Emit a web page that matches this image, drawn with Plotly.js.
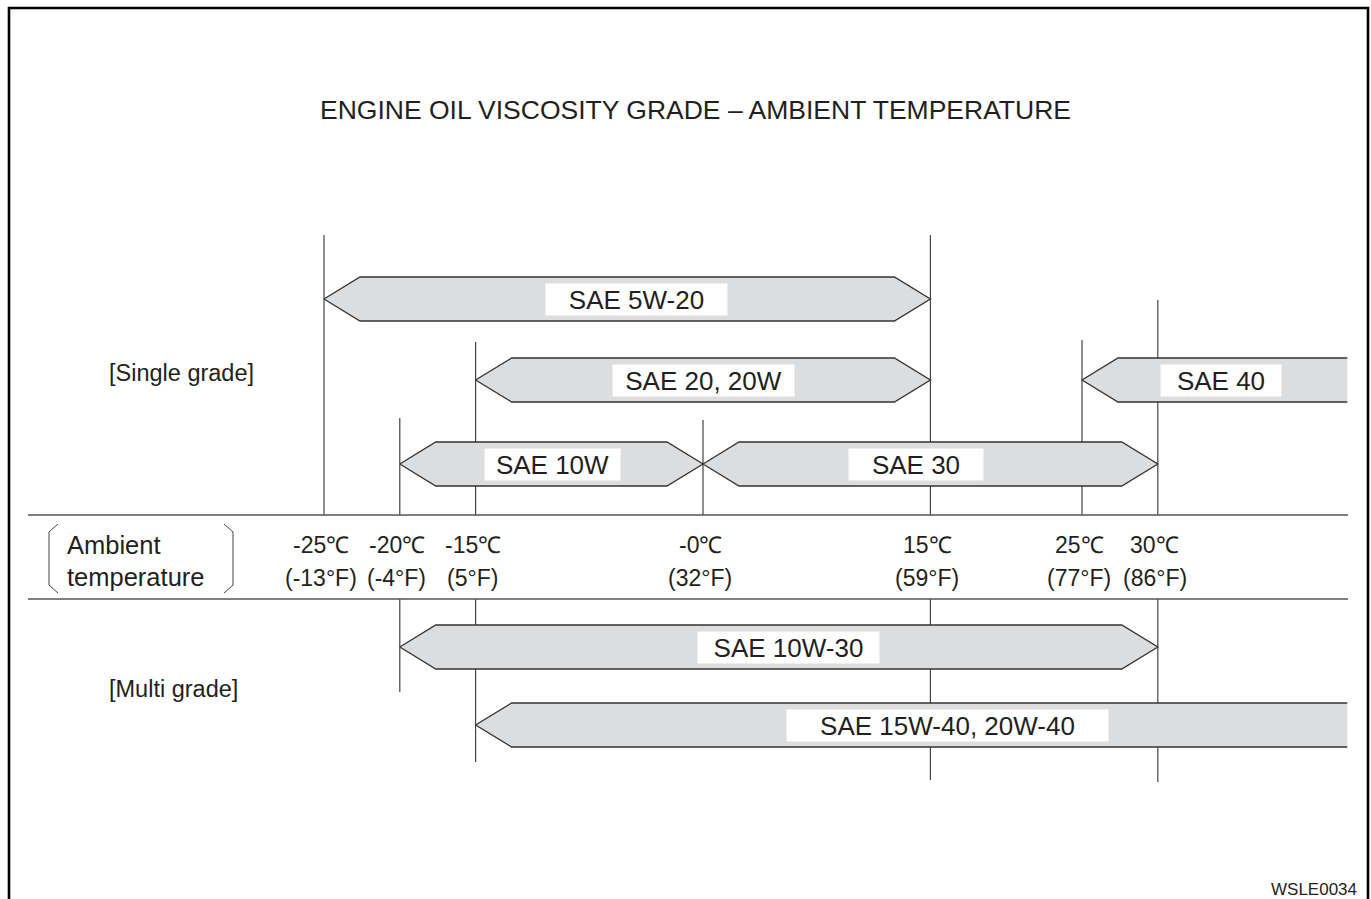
<!DOCTYPE html>
<html>
<head>
<meta charset="utf-8">
<script src="https://cdn.plot.ly/plotly-3.0.1.min.js"></script>
<style>html,body{margin:0;padding:0;background:#fff;}#chart{width:1371px;height:899px;}</style>
</head>
<body>
<div id="chart"></div>
<script>
// ---------------- DATA ----------------
const chartTitle = 'ENGINE OIL VISCOSITY GRADE – AMBIENT TEMPERATURE';
const grades    = ['SAE 5W-20', 'SAE 20, 20W', 'SAE 40', 'SAE 10W', 'SAE 30', 'SAE 10W-30', 'SAE 15W-40, 20W-40'];
const lowTemp   = [-25, -15, 25, -20, 0, -20, -15];      // °C, lower limit
const highTemp  = [15, 15, 42.5, 0, 30, 30, 42.5];       // °C, upper limit (42.5 = chart edge, open ended)
const openHigh  = [false, false, true, false, false, false, true];
const gradeRow  = [0, 1, 1, 2, 2, 3, 4];
const tempC     = [-25, -20, -15, 0, 15, 25, 30];
const tickC     = ['-25℃', '-20℃', '-15℃', '-0℃', '15℃', '25℃', '30℃'];
const tickF     = ['(-13°F)', '(-4°F)', '(5°F)', '(32°F)', '(59°F)', '(77°F)', '(86°F)'];
const groupLabels = ['[Single grade]', '[Multi grade]'];
const figureCode = 'WSLE0034';

// ---------------- LAYOUT CONFIG ----------------
const W = 1371, H = 899;
const PXC = 15.16, ZERO_PX = 703;                 // pixel scale of the temperature axis
const rowY = [299, 380, 464, 647, 725];           // row centres (px from top)
const HALF = 22, TIP_PX = 36;
const TIP = TIP_PX / PXC;
const labelX = [-4.4, 0, 34.2, -9.9, 14.05, 5.65, 16.1];   // label centres (°C)
const labelW = [181, 181, 120, 135, 134, 181, 321];
const upperTop = [235, 418, 342, 420, 235, 340, 300];
const lowerBottom = [null, 692, 762, null, 780, null, 782];
const bandTop = 515, bandBot = 599;
const FONT = 'Liberation Sans, Arial, Helvetica, sans-serif';
const INK = '#231f20';

const traces = [];
const shapes = [];
const annotations = [];

// arrows
grades.forEach((g, i) => {
  const a = lowTemp[i], b = highTemp[i], yc = rowY[gradeRow[i]];
  let fx, fy, ox, oy;
  if (openHigh[i]) {
    fx = [a, a + TIP, b, b, a + TIP, a];
    fy = [yc, yc - HALF, yc - HALF, yc + HALF, yc + HALF, yc];
    ox = [b, a + TIP, a, a + TIP, b];
    oy = [yc - HALF, yc - HALF, yc, yc + HALF, yc + HALF];
  } else {
    fx = [a, a + TIP, b - TIP, b, b - TIP, a + TIP, a];
    fy = [yc, yc - HALF, yc - HALF, yc, yc + HALF, yc + HALF, yc];
    ox = fx; oy = fy;
  }
  traces.push({x: fx, y: fy, type: 'scatter', mode: 'none', fill: 'toself',
    fillcolor: '#dcdddf', hoverinfo: 'skip', showlegend: false});
  traces.push({x: ox, y: oy, type: 'scatter', mode: 'lines',
    line: {color: '#333333', width: 1.3}, hoverinfo: 'skip', showlegend: false});
  annotations.push({x: labelX[i], y: yc, xref: 'x', yref: 'y', text: g, showarrow: false,
    font: {family: FONT, size: 26, color: INK}, bgcolor: '#ffffff',
    width: labelW[i], height: 31, align: 'center', valign: 'middle', borderpad: 0});
});

// guide lines
tempC.forEach((t, i) => {
  shapes.push({type: 'line', xref: 'x', yref: 'y', x0: t, x1: t, y0: upperTop[i], y1: bandTop,
    line: {color: '#444444', width: 1.2}, layer: 'below'});
  if (lowerBottom[i] !== null) {
    shapes.push({type: 'line', xref: 'x', yref: 'y', x0: t, x1: t, y0: bandBot, y1: lowerBottom[i],
      line: {color: '#444444', width: 1.2}, layer: 'below'});
  }
  annotations.push({x: t, y: 545, xref: 'x', yref: 'y', text: tickC[i], showarrow: false,
    xshift: -3, font: {family: FONT, size: 23, color: INK}});
  annotations.push({x: t, y: 578, xref: 'x', yref: 'y', text: tickF[i], showarrow: false,
    xshift: -3, font: {family: FONT, size: 23, color: INK}});
});

// band lines (pixel axis x2)
[bandTop, bandBot].forEach(yy => shapes.push({type: 'line', xref: 'x2', yref: 'y', x0: 28, x1: 1348,
  y0: yy, y1: yy, line: {color: '#555555', width: 1.6}, layer: 'below'}));

// brackets around "Ambient temperature"
shapes.push({type: 'path', xref: 'x2', yref: 'y', path: 'M 58 524 L 49 532 L 49 585 L 58 593',
  line: {color: '#444444', width: 1}});
shapes.push({type: 'path', xref: 'x2', yref: 'y', path: 'M 224 524 L 233 532 L 233 585 L 224 593',
  line: {color: '#444444', width: 1}});

// frame
shapes.push({type: 'path', xref: 'x2', yref: 'y', path: 'M 9 905 L 9 8 L 1368 8 L 1368 905',
  line: {color: '#000000', width: 2.6}});

annotations.push({x: 65, y: 545, xref: 'x2', yref: 'y', text: 'Ambient', showarrow: false, xanchor: 'left',
  font: {family: FONT, size: 25.5, color: INK}});
annotations.push({x: 65, y: 577, xref: 'x2', yref: 'y', text: 'temperature', showarrow: false, xanchor: 'left',
  font: {family: FONT, size: 25.5, color: INK}});
annotations.push({x: 107, y: 373, xref: 'x2', yref: 'y', text: groupLabels[0], showarrow: false, xanchor: 'left',
  font: {family: FONT, size: 23.5, color: INK}});
annotations.push({x: 107, y: 689, xref: 'x2', yref: 'y', text: groupLabels[1], showarrow: false, xanchor: 'left',
  font: {family: FONT, size: 23.5, color: INK}});
annotations.push({x: 695, y: 110, xref: 'x2', yref: 'y', text: chartTitle, showarrow: false,
  font: {family: FONT, size: 26.5, color: INK}});
annotations.push({x: 1359, y: 889, xref: 'x2', yref: 'y', text: figureCode, showarrow: false, xanchor: 'right',
  font: {family: FONT, size: 17, color: INK}});

// traces need an x2 anchor to create the pixel axis
traces.push({x: [0, W], y: [0, 0], xaxis: 'x2', type: 'scatter', mode: 'none', hoverinfo: 'skip', showlegend: false});

const layout = {
  width: W, height: H,
  margin: {l: 0, r: 0, t: 0, b: 0},
  paper_bgcolor: '#ffffff', plot_bgcolor: '#ffffff',
  showlegend: false,
  xaxis: {range: [(0 - ZERO_PX) / PXC, (W - ZERO_PX) / PXC], visible: false, fixedrange: true},
  xaxis2: {range: [0, W], visible: false, overlaying: 'x', fixedrange: true},
  yaxis: {range: [H, 0], visible: false, fixedrange: true},
  shapes: shapes,
  annotations: annotations,
  hovermode: false
};

Plotly.newPlot('chart', traces, layout, {staticPlot: true, displayModeBar: false});
</script>
</body>
</html>
